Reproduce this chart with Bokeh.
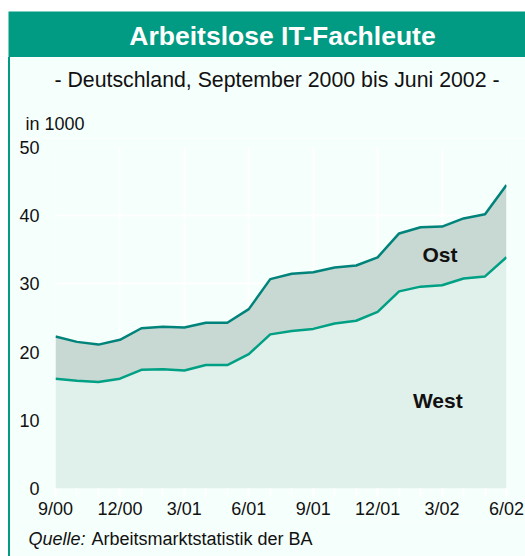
from bokeh.plotting import figure
from bokeh.models import Range1d, Label, ColumnDataSource, FixedTicker, Spacer
from bokeh.layouts import column, row
from bokeh.embed import file_html
from bokeh.resources import INLINE

# ---- data (in 1000) ----
months = ["9/00", "10/00", "11/00", "12/00", "1/01", "2/01", "3/01", "4/01", "5/01",
          "6/01", "7/01", "8/01", "9/01", "10/01", "11/01", "12/01", "1/02", "2/02",
          "3/02", "4/02", "5/02", "6/02"]
west = [16.1, 15.8, 15.6, 16.1, 17.4, 17.5, 17.3, 18.1, 18.1, 19.7, 22.6, 23.1,
        23.4, 24.2, 24.6, 25.9, 28.9, 29.6, 29.8, 30.8, 31.1, 33.9]
ost = [6.2, 5.7, 5.5, 5.7, 6.1, 6.2, 6.3, 6.2, 6.2, 6.6, 8.1, 8.4,
       8.3, 8.2, 8.1, 8.0, 8.5, 8.7, 8.6, 8.8, 9.1, 10.6]
tick_labels = ["9/00", "12/00", "3/01", "6/01", "9/01", "12/01", "3/02", "6/02"]

GREEN = "#009b82"
DARK = "#00837a"
LINE_W = "#00a084"
BG = "#f5fffc"
OST_FILL = "#c8d8d2"
WEST_FILL = "#e0f0ea"
FONT = "Liberation Sans"
TXT = "#111111"

x = list(range(len(months)))
total = [w + o for w, o in zip(west, ost)]
src = ColumnDataSource(dict(x=x, west=west, ost=ost, total=total, month=months))


def no_align(f):
    try:
        f.frame_align = False
    except Exception:
        pass
    return f


def text_fig(width, height, bg, top=0, left=0):
    f = figure(width=width, height=height, x_range=Range1d(0, width - left),
               y_range=Range1d(0, height - top), toolbar_location=None, output_backend="svg",
               x_axis_location=None, y_axis_location=None,
               min_border_top=top, min_border_left=left, min_border_right=0, min_border_bottom=0,
               background_fill_color=bg, border_fill_color="white", outline_line_color=None)
    f.grid.visible = False
    return no_align(f)


# ---- header ----
hp = text_fig(517, 57, GREEN, top=11)
hp.add_layout(Label(x=274, y=22, text="Arbeitslose IT-Fachleute", text_align="center",
                    text_baseline="middle", text_color="white", text_font=FONT,
                    text_font_size="26.5px", text_font_style="bold"))

# ---- subtitle block ----
sp = text_fig(515, 81, BG)
sp.add_layout(Label(x=266.5, y=59, text="- Deutschland, September 2000 bis Juni 2002 -",
                    text_align="center", text_baseline="middle", text_font=FONT,
                    text_font_size="21.3px", text_color=TXT))
sp.add_layout(Label(x=15, y=15, text="in 1000", text_align="left",
                    text_baseline="middle", text_font=FONT, text_font_size="18px",
                    text_color=TXT))

# ---- main chart ----
p = figure(width=515, height=384, x_range=Range1d(0, 21), y_range=Range1d(0, 50),
           toolbar_location=None, output_backend="svg",
           min_border_left=45, min_border_right=19, min_border_top=9, min_border_bottom=34,
           background_fill_color=BG, border_fill_color=BG, outline_line_color=None)
no_align(p)

p.varea(x="x", y1=0, y2="west", source=src, fill_color=WEST_FILL)
p.varea(x="x", y1="west", y2="total", source=src, fill_color=OST_FILL)
p.line(x="x", y="west", source=src, line_color=LINE_W, line_width=2.5)
p.line(x="x", y="total", source=src, line_color=DARK, line_width=2.5)

ticks = [i for i, m in enumerate(months) if m in tick_labels]
p.xaxis.ticker = FixedTicker(ticks=ticks, minor_ticks=x)
p.xaxis.major_label_overrides = {i: months[i] for i in ticks}
p.yaxis.ticker = FixedTicker(ticks=[0, 10, 20, 30, 40, 50])

for ax in p.axis:
    ax.axis_line_color = None
    ax.major_label_text_font = FONT
    ax.major_label_text_font_size = "18px"
    ax.major_label_text_color = TXT
p.yaxis.major_tick_line_color = None
p.yaxis.minor_tick_line_color = None
p.yaxis.major_label_standoff = 10
p.xaxis.major_tick_line_color = "white"
p.xaxis.minor_tick_line_color = "white"
p.xaxis.major_tick_line_width = 2
p.xaxis.minor_tick_line_width = 2
p.xaxis.major_tick_out = 8
p.xaxis.major_tick_in = 0
p.xaxis.minor_tick_out = 8
p.xaxis.minor_tick_in = 0
p.xaxis.major_label_standoff = 2

p.grid.grid_line_color = "white"
p.grid.grid_line_width = 2
p.xgrid.ticker = FixedTicker(ticks=ticks)
p.ygrid.ticker = FixedTicker(ticks=[0, 10, 20, 30, 40, 50])

p.add_layout(Label(x=17.9, y=34.3, text="Ost", text_align="center", text_baseline="middle",
                   text_font=FONT, text_font_size="21px", text_font_style="bold",
                   text_color=TXT))
p.add_layout(Label(x=17.8, y=12.9, text="West", text_align="center", text_baseline="middle",
                   text_font=FONT, text_font_size="21px", text_font_style="bold",
                   text_color=TXT))

# ---- source line ----
qp = text_fig(515, 34, BG)
qp.add_layout(Label(x=18, y=18, text="Quelle:", text_align="left", text_baseline="middle",
                    text_font=FONT, text_font_size="18px", text_font_style="italic",
                    text_color=TXT))
qp.add_layout(Label(x=81, y=18, text="Arbeitsmarktstatistik der BA", text_align="left",
                    text_baseline="middle", text_font=FONT, text_font_size="18px",
                    text_color=TXT))

bar = Spacer(width=2, height=499, styles={"background-color": GREEN})
body = row(bar, column(sp, p, qp, spacing=0), spacing=0)
layout = row(Spacer(width=8, height=556),
             column(hp, body, spacing=0), spacing=0)

open("out.html", "w").write(file_html(layout, INLINE))
